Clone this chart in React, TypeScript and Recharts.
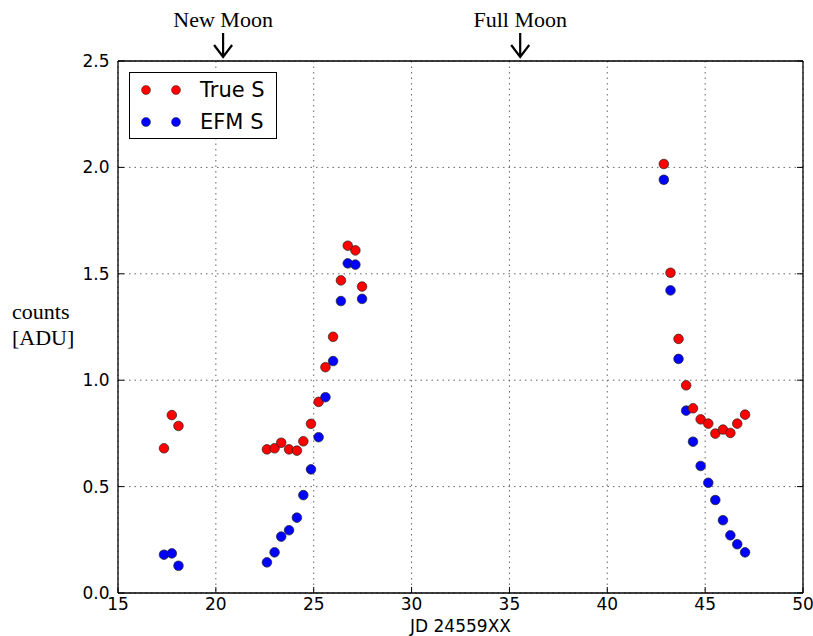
import {
  ScatterChart,
  Scatter,
  XAxis,
  YAxis,
  CartesianGrid,
  ReferenceDot,
  Legend,
} from "recharts";

// JD - 2455900 for each observation
const jd = [
  17.35, 17.75, 18.09, 22.61, 23.0, 23.34, 23.74, 24.14, 24.47, 24.86, 25.25,
  25.6, 25.99, 26.39, 26.74, 27.13, 27.47, 42.89, 43.23, 43.64, 44.03, 44.38,
  44.77, 45.16, 45.52, 45.91, 46.29, 46.64, 47.04,
];
const trueS = [
  0.68, 0.836, 0.785, 0.675, 0.68, 0.706, 0.675, 0.669, 0.713, 0.795, 0.898,
  1.061, 1.204, 1.469, 1.632, 1.61, 1.44, 2.016, 1.505, 1.194, 0.976, 0.868,
  0.816, 0.796, 0.749, 0.768, 0.752, 0.796, 0.838,
];
const efmS = [
  0.18, 0.186, 0.128, 0.144, 0.191, 0.265, 0.295, 0.354, 0.46, 0.581, 0.732,
  0.92, 1.09, 1.372, 1.549, 1.543, 1.382, 1.942, 1.422, 1.1, 0.857, 0.711,
  0.597, 0.518, 0.437, 0.342, 0.271, 0.229, 0.191,
];
const xTicks = [15, 20, 25, 30, 35, 40, 45, 50];
const yTicks = [0, 0.5, 1.0, 1.5, 2.0, 2.5];
const moonLabels = ["New Moon", "Full Moon"];
const moonJd = [20.37, 35.55];

const series = [
  { name: "True S", color: "#ff0000", values: trueS },
  { name: "EFM S", color: "#0000ff", values: efmS },
];

// matplotlib drew each epoch red then blue, so interleave them
const points = jd.flatMap((x, i) =>
  series.map((s) => ({ x, y: s.values[i], color: s.color }))
);

const SANS = "'DejaVu Sans', sans-serif";
const SERIF = "'Liberation Serif', 'Times New Roman', serif";

function Dot(props: any) {
  const { cx, cy, payload } = props;
  return (
    <circle
      cx={cx}
      cy={cy}
      r={4.8}
      fill={payload.color}
      stroke="#222"
      strokeWidth={0.7}
    />
  );
}

function MoonMarker({ cx, cy, label }: any) {
  return (
    <g>
      <text
        x={cx}
        y={cy - 34}
        textAnchor="middle"
        fontFamily={SERIF}
        fontSize={22}
        fill="#000"
      >
        {label}
      </text>
      <path
        d={`M${cx},${cy - 28} L${cx},${cy - 4} M${cx - 9},${cy - 16} L${cx},${cy - 4} L${cx + 9},${cy - 16}`}
        stroke="#000"
        strokeWidth={2.2}
        fill="none"
      />
    </g>
  );
}

function YLabel({ viewBox }: any) {
  const x = viewBox.x - 26;
  const mid = viewBox.y + viewBox.height / 2;
  return (
    <text fontFamily={SERIF} fontSize={22} fill="#000">
      <tspan x={x} y={mid - 8}>
        counts
      </tspan>
      <tspan x={x} y={mid + 18}>
        [ADU]
      </tspan>
    </text>
  );
}

function XLabel({ viewBox }: any) {
  return (
    <text
      x={viewBox.x + viewBox.width / 2}
      y={viewBox.y + 39}
      textAnchor="middle"
      fontFamily={SANS}
      fontSize={17}
      fill="#000"
    >
      JD 24559XX
    </text>
  );
}

function LegendBox() {
  return (
    <svg width={148} height={67} style={{ display: "block" }}>
      <rect x={0.5} y={0.5} width={147} height={66} fill="#fff" stroke="#000" />
      {series.map((s, i) => (
        <g key={s.name}>
          <circle cx={17} cy={18 + i * 32} r={4.5} fill={s.color} stroke="#222" strokeWidth={0.5} />
          <circle cx={47} cy={18 + i * 32} r={4.5} fill={s.color} stroke="#222" strokeWidth={0.5} />
          <text x={71} y={25 + i * 32} fontFamily={SANS} fontSize={21} fill="#000">
            {s.name}
          </text>
        </g>
      ))}
    </svg>
  );
}

const tickStyle = { fill: "#000", fontSize: 17, fontFamily: SANS };
const frame = { stroke: "#000", strokeWidth: 1.3 };

export default function App() {
  return (
    <div style={{ position: "absolute", left: 0, top: 0, background: "#fff" }}>
      <ScatterChart
        width={813}
        height={636}
        margin={{ top: 60, right: 9, bottom: 13, left: 38 }}
      >
        <CartesianGrid stroke="#666" strokeDasharray="1.5 4" />
        <XAxis
          type="number"
          dataKey="x"
          domain={[15, 50]}
          ticks={xTicks}
          interval={0}
          allowDataOverflow
          height={30}
          tickSize={-6}
          tickMargin={11}
          axisLine={frame}
          tickLine={{ stroke: "#000" }}
          tick={tickStyle}
          label={{ content: XLabel }}
        />
        <XAxis
          xAxisId="top"
          orientation="top"
          type="number"
          domain={[15, 50]}
          ticks={xTicks}
          interval={0}
          allowDataOverflow
          height={1}
          tickSize={-6}
          axisLine={frame}
          tickLine={{ stroke: "#000" }}
          tickFormatter={() => ""}
        />
        <YAxis
          type="number"
          dataKey="y"
          domain={[0, 2.5]}
          ticks={yTicks}
          interval={0}
          allowDataOverflow
          width={80}
          tickSize={-6}
          tickMargin={14.5}
          axisLine={frame}
          tickLine={{ stroke: "#000" }}
          tick={tickStyle}
          tickFormatter={(v: number) => v.toFixed(1)}
          label={{ content: YLabel }}
        />
        <YAxis
          yAxisId="right"
          orientation="right"
          type="number"
          domain={[0, 2.5]}
          ticks={yTicks}
          interval={0}
          allowDataOverflow
          width={1}
          tickSize={-6}
          axisLine={frame}
          tickLine={{ stroke: "#000" }}
          tickFormatter={() => ""}
        />
        <Legend
          layout="vertical"
          verticalAlign="middle"
          align="center"
          wrapperStyle={{ top: 72, left: 129, width: 148, height: 67 }}
          content={() => <LegendBox />}
        />
        <Scatter
          data={points}
          shape={Dot}
          isAnimationActive={false}
        />
        {moonJd.map((x, i) => (
          <ReferenceDot
            key={moonLabels[i]}
            x={x}
            y={2.5}
            r={0}
            ifOverflow="visible"
            shape={(p: any) => <MoonMarker {...p} label={moonLabels[i]} />}
          />
        ))}
      </ScatterChart>
    </div>
  );
}
